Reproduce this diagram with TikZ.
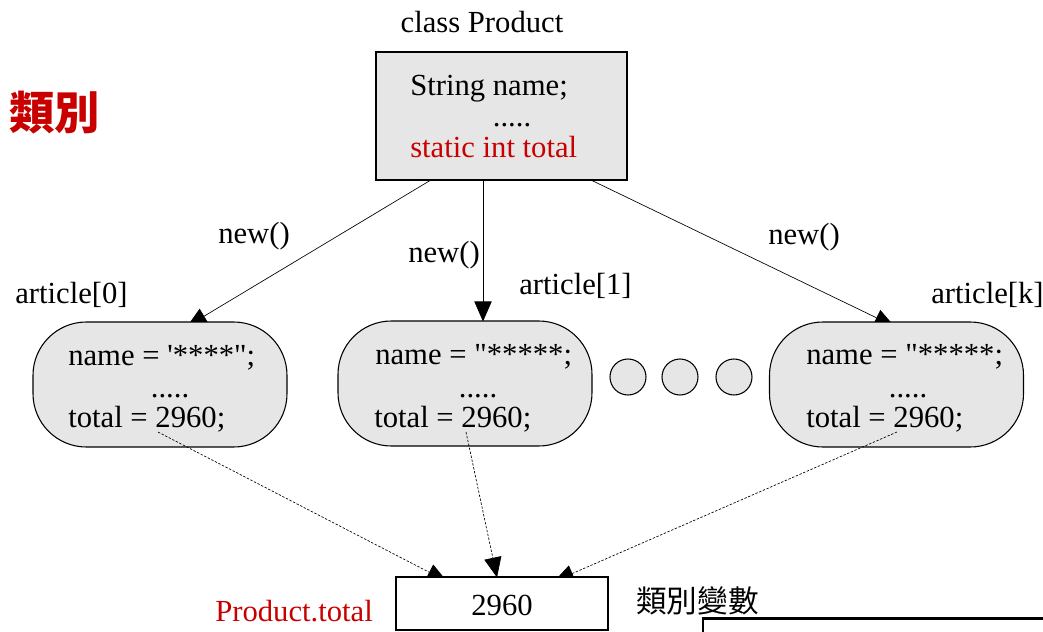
\documentclass[tikz,border=0pt]{standalone}
\usepackage{fontspec}
\setmainfont{Liberation Serif}
\newfontfamily\cjk{Noto Sans CJK TC}
\usetikzlibrary{arrows.meta}
\pgfdeclarelayer{background}
\pgfdeclarelayer{dashlayer}
\pgfdeclarelayer{toplayer}
\pgfsetlayers{background,main,dashlayer,toplayer}
\definecolor{boxgray}{RGB}{230,230,230}
\definecolor{darkred}{RGB}{200,0,0}
\begin{document}
\begin{tikzpicture}[x=0.75pt,y=-0.75pt,
  font=\fontsize{23}{27}\selectfont,
  txt/.style={inner sep=0pt, anchor=base west},
  ctxt/.style={inner sep=0pt, anchor=base},
  classbox/.style={draw, fill=boxgray, line width=0.8pt, minimum width=188.25pt, minimum height=96pt},
  inst/.style={draw, fill=boxgray, line width=0.8pt, rounded corners=40pt, minimum width=190.5pt, minimum height=93.75pt},
  valbox/.style={draw, fill=white, line width=0.8pt, minimum width=159pt, minimum height=39.75pt},
  ball/.style={draw, fill=boxgray, circle, line width=0.8pt, minimum size=27pt, inner sep=0pt},
  arr/.style={-{Triangle[length=15pt,width=13pt]}, line width=0.5pt},
  darr/.style={-{Triangle[length=15pt,width=13pt]}, line width=0.5pt, dash pattern=on 1.8pt off 1.2pt},
]
\useasboundingbox (0,0) rectangle (1043,632);

% class box
\node[classbox] (cls) at (501.5,116) {};
\node[ctxt] (title) at (482,32) {class Product};
\node[txt] (l1) at (410,95) {String name;};
\node[ctxt] (l2) at (512,126) {.....};
\node[txt, text=darkred] (l3) at (410,157) {static int total};

\node[inner sep=0pt, text=darkred, font=\cjk\bfseries\fontsize{34}{38}\selectfont] (lei) at (55,113) {類別};

% instances
\node[inst] (a0) at (160,384.5) {};
\node[inst] (a1) at (465,383.5) {};
\node[inst] (a2) at (896.5,384.5) {};

\node[txt] (a0n) at (68,365) {name = \textquotesingle****\textquotedbl;};
\node[ctxt] (a0d) at (170,397) {.....};
\node[txt] (a0t) at (68,427) {total = 2960;};

\node[txt] (a1n) at (375,364) {name = \textquotedbl*****;};
\node[ctxt] (a1d) at (478,397) {.....};
\node[txt] (a1t) at (374,427) {total = 2960;};

\node[txt] (a2n) at (806,364) {name = \textquotedbl*****;};
\node[ctxt] (a2d) at (908,397) {.....};
\node[txt] (a2t) at (806,427) {total = 2960;};

\node[txt] (art0) at (15,303) {article[0]};
\node[txt] (art1) at (519,294) {article[1]};
\node[txt] (artk) at (931,303) {article[k]};

\node[txt] (new0) at (218,243) {new()};
\node[txt] (new1) at (408,262) {new()};
\node[txt] (new2) at (768,244) {new()};

% dots
\node[ball] (b1) at (628,377) {};
\node[ball] (b2) at (680,377) {};
\node[ball] (b3) at (734,377) {};

% bottom
\begin{pgfonlayer}{toplayer}
\node[valbox] (val) at (502,603.5) {};
\node[ctxt] (valt) at (502,615) {2960};
\end{pgfonlayer}
\node[txt, text=darkred] (pt) at (215,621) {Product.total};
\node[txt, font=\cjk\fontsize{23}{27}\selectfont] (lbv) at (636,612) {類別變數};

\draw[line width=1.6pt] (703,632) -- (703,618.5) -- (1043,618.5);

\begin{pgfonlayer}{background}
\draw[arr] ([shift={(-71.5,0)}]cls.south) -- ([shift={(27,5)}]a0.north);
\draw[arr] ([shift={(-18.5,0)}]cls.south) -- ([shift={(18,1)}]a1.north);
\draw[arr] ([shift={(90.5,0)}]cls.south) -- ([shift={(-2,5)}]a2.north);
\end{pgfonlayer}

\begin{pgfonlayer}{dashlayer}
\draw[darr] ([shift={(-2,47.5)}]a0.center) -- ([shift={(-55,5)}]val.north);
\draw[darr] ([shift={(1,48.5)}]a1.center) -- ([shift={(-5,1)}]val.north);
\draw[darr] ([shift={(0.5,47.5)}]a2.center) -- ([shift={(52,5)}]val.north);
\end{pgfonlayer}
\end{tikzpicture}
\end{document}
